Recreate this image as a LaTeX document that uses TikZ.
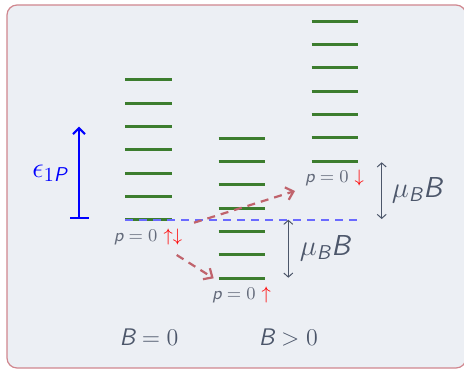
\documentclass[tikz,border=0pt]{standalone}
\usepackage{amsmath}
\usetikzlibrary{calc}
\usetikzlibrary{arrows.meta}

\definecolor{framebg}{HTML}{ECEFF4}
\definecolor{frameedge}{HTML}{D0868E}
\definecolor{levelgreen}{HTML}{3C7D2E}
\definecolor{textgrey}{HTML}{4C566A}
\definecolor{labelgrey}{HTML}{646B7B}
\definecolor{shiftred}{HTML}{C0636C}
\definecolor{zeroblue}{HTML}{6A6AFF}
\newcommand{\sfv}[1]{\text{\sffamily\itshape #1}}

\begin{document}
\begin{tikzpicture}[x=0.5pt, y=-0.5pt,
    level/.style={levelgreen, line width=1.5pt},
    shift arrow/.style={shiftred, line width=1.1pt, dash pattern=on 4pt off 3pt,
        -{Straight Barb[length=3.5pt, width=6.5pt]}},
    gap arrow/.style={textgrey, line width=0.5pt,
        {Straight Barb[length=2pt, width=4.5pt]}-{Straight Barb[length=2pt, width=4.5pt]}},
    spin label/.style={labelgrey, font=\small}]

    \useasboundingbox (0,0) rectangle (464,369);
    \draw[frameedge, fill=framebg, line width=0.6pt, rounded corners=5pt] (7,5) rectangle (466,368);

    % lowest level of each column
    \coordinate (A0) at (125.3, 219.7);
    \coordinate (B0) at (218.7, 278.3);
    \coordinate (C0) at (311.7, 161);

    \foreach \col in {A0, B0, C0}
        \foreach \i in {0,...,6}
            \draw[level] ($(\col)+(0,-23.33*\i)$) -- ++(46.4,0);

    \coordinate (Zend) at (358, 219.7);
    \draw[zeroblue, line width=0.8pt, dash pattern=on 4pt off 3pt] (A0) -- (Zend);

    % energy of the 1P state
    \coordinate (E0) at (79, 218.7);
    \coordinate (E1) at (79, 126.7);
    \draw[blue, line width=1pt, {Bar[width=9.5pt]}-{Straight Barb[length=3pt, width=6pt]}] (E0) -- (E1);
    \node[blue, font=\Large] (eps) at (50, 173) {$\epsilon_{1\sfv{P}}$};

    % spin labels
    \node[spin label] (pA) at (148, 237) {$\sfv{p}=0$ \textcolor{red}{$\uparrow\downarrow$}};
    \node[spin label] (pB) at (241.5, 295) {$\sfv{p}=0$ \textcolor{red}{$\uparrow$}};
    \node[spin label] (pC) at (334.5, 178) {$\sfv{p}=0$ \textcolor{red}{$\downarrow$}};

    % Zeeman shifts
    \coordinate (SA1) at (194, 222.7);
    \coordinate (SC1) at (295, 191);
    \coordinate (SA2) at (176.7, 255);
    \coordinate (SB2) at ($(B0)+(-5,0)$);
    \draw[shift arrow] (SA1) -- (SC1);
    \draw[shift arrow] (SA2) -- (SB2);

    \coordinate (GB0) at (288.3, 219.7);
    \coordinate (GB1) at (288.3, 277.7);
    \coordinate (GC0) at (381.7, 162.3);
    \coordinate (GC1) at (381.7, 219);
    \draw[gap arrow] (GB0) -- (GB1);
    \draw[gap arrow] (GC0) -- (GC1);
    \node[textgrey, font=\Large] (muB) at (325, 248) {$\mu_{\sfv{B}}\sfv{B}$};
    \node[textgrey, font=\Large] (muC) at (417, 190) {$\mu_{\sfv{B}}\sfv{B}$};

    \node[textgrey, font=\large] (field0) at (149, 337) {$\sfv{B}=0$};
    \node[textgrey, font=\large] (field1) at (288.3, 337) {$\sfv{B}>0$};

\end{tikzpicture}
\end{document}
